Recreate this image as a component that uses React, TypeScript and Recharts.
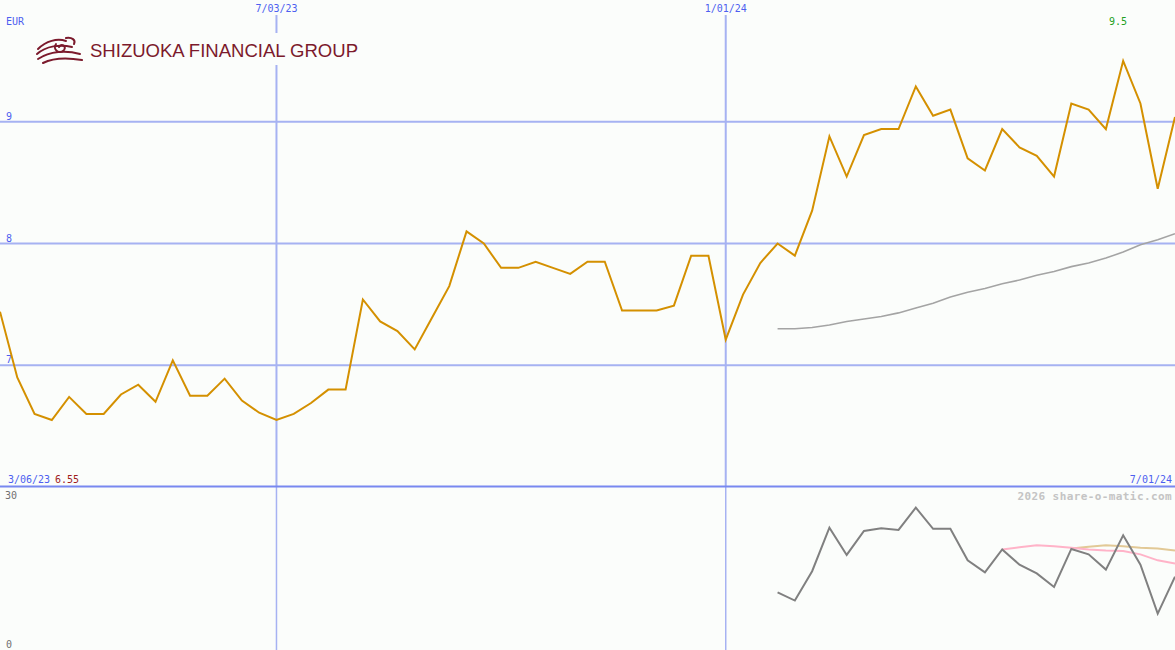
import React from 'react';
import { LineChart, Line, XAxis, YAxis, CartesianGrid, ReferenceLine } from 'recharts';

// weekly closes, week 0 .. week 68
const price = [
  7.44, 6.9, 6.6, 6.55, 6.74, 6.6, 6.6, 6.76, 6.84, 6.7,
  7.04, 6.75, 6.75, 6.89, 6.71, 6.61, 6.55, 6.6, 6.69, 6.8,
  6.8, 7.54, 7.36, 7.28, 7.13, 7.39, 7.65, 8.1, 8.0, 7.8,
  7.8, 7.85, 7.8, 7.75, 7.85, 7.85, 7.45, 7.45, 7.45, 7.49,
  7.9, 7.9, 7.21, 7.58, 7.84, 8.0, 7.9, 8.27, 8.88, 8.55,
  8.89, 8.94, 8.94, 9.29, 9.05, 9.1, 8.7, 8.6, 8.94, 8.79,
  8.72, 8.55, 9.15, 9.1, 8.94, 9.5, 9.15, 8.45, 9.04,
];

// moving average, from week 45
const maStart = 45;
const movingAvg = [
  7.3, 7.3, 7.31, 7.33, 7.36, 7.38, 7.4, 7.43, 7.47, 7.51, 7.56, 7.6,
  7.63, 7.67, 7.7, 7.74, 7.77, 7.81, 7.84, 7.88, 7.93, 7.99, 8.03, 8.08,
];

// lower panel indicator (0-30), from week 45
const oscStart = 45;
const osc = [
  10.6, 9.1, 14.5, 22.5, 17.5, 21.9, 22.4, 22.1, 26.2, 22.3, 22.3, 16.5,
  14.3, 18.5, 15.7, 14.1, 11.6, 18.6, 17.6, 14.8, 21.1, 15.7, 6.7, 13.5,
];
const pinkStart = 58;
const oscPink = [18.5, 18.9, 19.3, 19.1, 18.8, 18.5, 18.3, 18.2, 17.6, 16.5, 15.9];
const tanStart = 62;
const oscTan = [18.7, 19.0, 19.3, 19.1, 18.8, 18.7, 18.3];

const dateTicks = [16, 42];
const dateLabels = ['7/03/23', '1/01/24'];
const priceTicks = [7, 8, 9];
const oscTicks = [0, 30];

const pick = (arr: number[], start: number, i: number) =>
  i >= start && i - start < arr.length ? arr[i - start] : null;

const data = price.map((p, i) => ({
  i,
  price: p,
  ma: pick(movingAvg, maStart, i),
  osc: pick(osc, oscStart, i),
  pink: pick(oscPink, pinkStart, i),
  tan: pick(oscTan, tanStart, i),
}));

const W = 1175;
const MAIN_H = 487;
const LOW_H = 163;
const BG = '#fbfdfb';
const GRID = '#a6b2f2';
const BLUE = '#4d5ff0';
const MONO = '"DejaVu Sans Mono", monospace';

// label sitting just above a horizontal reference line, at the left edge
const AboveLeft = (props: any) => {
  const { viewBox, value, fill } = props;
  return (
    <text x={6} y={viewBox.y - 2} fill={fill} fontSize={10} fontFamily={MONO}>
      {value}
    </text>
  );
};

const BelowLeft = (props: any) => {
  const { viewBox, value, fill } = props;
  return (
    <text x={5} y={viewBox.y + 12} fill={fill} fontSize={10} fontFamily={MONO}>
      {value}
    </text>
  );
};

function Logo() {
  const c = '#7b1a2c';
  return (
    <g>
      <rect x={30} y={33} width={334} height={32} fill={BG} />
      <g fill="none" stroke={c} strokeWidth={2} strokeLinecap="round">
        <path d="M38 49 C46 41, 57 38, 66 41" />
        <path d="M37 54 C46 46, 60 44, 72 47" />
        <path d="M38 59 C50 51, 66 50, 80 54" />
        <path d="M43 63 C55 57, 70 58, 82 60" />
        <path d="M56 44 C52 50, 60 55, 64 50 C67 46, 61 43, 59 47" />
        <path d="M66 38 C72 37, 76 40, 74 44" />
      </g>
      <text x={90} y={57} fill={c} fontSize={19} fontFamily="'Liberation Sans', Arial, sans-serif" textLength={268} lengthAdjust="spacingAndGlyphs">
        SHIZUOKA FINANCIAL GROUP
      </text>
    </g>
  );
}

export default function App() {
  return (
    <div style={{ position: 'fixed', left: 0, top: 0, width: W, height: 650, background: BG, overflow: 'hidden' }}>
      <div style={{ position: 'absolute', left: 0, top: 0 }}>
        <LineChart width={W} height={MAIN_H} data={data} margin={{ top: 0, right: 0, bottom: 0, left: 0 }}>
          <XAxis dataKey="i" type="number" domain={[0, 68]} hide />
          <YAxis type="number" domain={[6, 10]} hide allowDataOverflow />
          {priceTicks.map((t) => (
            <ReferenceLine
              key={t}
              y={t}
              stroke={GRID}
              strokeWidth={2}
              label={<AboveLeft value={String(t)} fill={BLUE} />}
            />
          ))}
          {dateTicks.map((d, k) => (
            <ReferenceLine
              key={d}
              segment={[{ x: d, y: 9.877 }, { x: d, y: 6 }]}
              stroke={GRID}
              strokeWidth={2}
              label={{ value: dateLabels[k], position: 'top', offset: 3, fill: BLUE, fontSize: 10, fontFamily: MONO }}
            />
          ))}
          <Line type="linear" dataKey="ma" stroke="#a4a4a4" strokeWidth={1.6} dot={false} activeDot={false} isAnimationActive={false} />
          <Line type="linear" dataKey="price" stroke="#d49000" strokeWidth={2} dot={false} activeDot={false} isAnimationActive={false} />
        </LineChart>
      </div>
      <div style={{ position: 'absolute', left: 0, top: MAIN_H }}>
        <LineChart width={W} height={LOW_H} data={data} margin={{ top: 0, right: 0, bottom: 0, left: 0 }}>
          <CartesianGrid verticalValues={dateTicks} horizontal={false} stroke={GRID} strokeWidth={1.5} />
          <XAxis dataKey="i" type="number" domain={[0, 68]} hide />
          <YAxis type="number" domain={[0, 30]} hide />
          <ReferenceLine y={oscTicks[1]} stroke="none" label={<BelowLeft value={String(oscTicks[1])} fill="#707070" />} />
          <ReferenceLine y={oscTicks[0]} stroke="none" label={<AboveLeft value={String(oscTicks[0])} fill="#707070" />} />
          <Line type="linear" dataKey="tan" stroke="#e2c996" strokeWidth={2} dot={false} activeDot={false} isAnimationActive={false} />
          <Line type="linear" dataKey="pink" stroke="#ffb3c8" strokeWidth={2} dot={false} activeDot={false} isAnimationActive={false} />
          <Line type="linear" dataKey="osc" stroke="#808080" strokeWidth={2} dot={false} activeDot={false} isAnimationActive={false} />
        </LineChart>
      </div>
      <svg width={W} height={650} style={{ position: 'absolute', left: 0, top: 0, pointerEvents: 'none' }}>
        <Logo />
        <line x1={0} x2={W} y1={MAIN_H - 0.5} y2={MAIN_H - 0.5} stroke="#7888f0" strokeWidth={2} />
        <g fontFamily={MONO} fontSize={10}>
          <text x={6} y={25} fill={BLUE}>EUR</text>
          <text x={1109} y={25} fill="#22a022">9.5</text>
          <text x={8} y={483} fill={BLUE}>3/06/23</text>
          <text x={55} y={483} fill="#a01c1c">6.55</text>
          <text x={1172} y={483} fill={BLUE} textAnchor="end">7/01/24</text>
          <text x={1172} y={500} fill="#c4c4c4" fontWeight="bold" fontSize={11} letterSpacing={0.4} textAnchor="end">
            2026 share-o-matic.com
          </text>
        </g>
      </svg>
    </div>
  );
}
